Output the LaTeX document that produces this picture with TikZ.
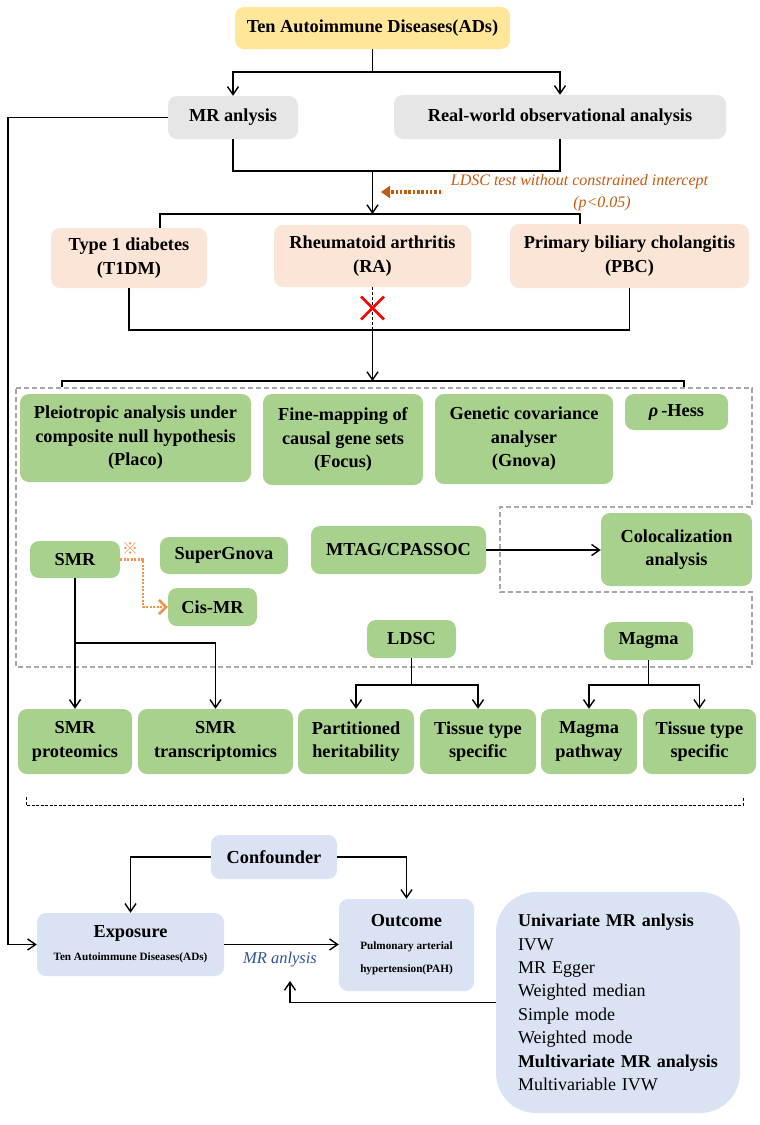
\documentclass[tikz,border=0pt]{standalone}
\usepackage{fontspec}
\setmainfont{Liberation Serif}
\newfontfamily\cjkfont{Noto Sans CJK SC}
\usetikzlibrary{arrows.meta,shapes.misc}

\definecolor{topyellow}{HTML}{FFE699}
\definecolor{mrgray}{HTML}{E7E6E6}
\definecolor{peach}{HTML}{FBE5D6}
\definecolor{leafgreen}{HTML}{A9D18E}
\definecolor{paleblue}{HTML}{DAE3F3}
\definecolor{frameg}{HTML}{A6A6A6}
\definecolor{ldscorange}{HTML}{C55A11}
\definecolor{smrorange}{HTML}{F4914A}
\definecolor{mrblue}{HTML}{2F5597}

\tikzset{
  box/.style={rounded corners=9pt, align=center, inner sep=0pt,
    font=\bfseries\fontsize{18.3}{23.5}\selectfont},
  greenbox/.style={box, fill=leafgreen},
  link/.style={line width=1.4pt},
  arr/.style={line width=1.4pt, -{Straight Barb[length=8pt,width=11pt]}},
}

\begin{document}
\begin{tikzpicture}[x=1pt, y=-1pt]
  \useasboundingbox (0,0) rectangle (760,1125);

  % upper flow
  \node[box, fill=topyellow, minimum width=275, minimum height=42] (ads) at (372.5,28) {Ten Autoimmune Diseases(ADs)};
  \node[box, fill=mrgray, minimum width=130, minimum height=43] (mr) at (233,117.5) {MR anlysis};
  \node[box, fill=mrgray, minimum width=332, minimum height=44] (rw) at (560,117) {Real-world observational analysis};
  \node[box, fill=peach, minimum width=156, minimum height=60] (t1dm) at (129,258) {Type 1 diabetes\\(T1DM)};
  \node[box, fill=peach, minimum width=197, minimum height=62] (ra) at (372.5,256) {Rheumatoid arthritis\\(RA)};
  \node[box, fill=peach, minimum width=239, minimum height=64] (pbc) at (629.5,256) {Primary biliary cholangitis\\(PBC)};

  \coordinate (adsj) at (372.5,72);
  \draw[link] (ads) -- (adsj);
  \draw[arr] (adsj) -| (mr);
  \draw[arr] (adsj) -| (rw);
  \coordinate (mrj) at (372.5,171);
  \draw[link] (mr) |- (mrj);
  \draw[link] (rw) |- (mrj);
  \coordinate (adbus) at (372.5,214);
  \draw[arr] (mrj) -- (adbus);
  \coordinate (adbusl) at (160,214);
  \coordinate (adbusr) at (580,214);
  \draw[link] (t1dm.north -| adbusl) |- (adbusr) -- (pbc.north -| adbusr);

  \node[font=\itshape\fontsize{16}{19}\selectfont, text=ldscorange] (ldsctxt) at (579.5,182) {LDSC test without constrained intercept};
  \node[font=\itshape\fontsize{16}{19}\selectfont, text=ldscorange] (pval) at (602,204) {(p<0.05)};
  \coordinate (ldsctail) at (441,192);
  \coordinate (ldschead) at (381,192);
  \draw[ldscorange, line width=3.2pt, dash pattern=on 2.5pt off 1.8pt, -{Triangle[length=9pt,width=12pt]}] (ldsctail) -- (ldschead);

  \coordinate (raj) at (372.5,330);
  \draw[link] (t1dm) |- (raj) -| (pbc);
  \draw[line width=1pt, dash pattern=on 3pt off 2pt] (ra) -- (raj);
  \node[cross out, draw=red, line width=2.8pt, minimum width=20pt, minimum height=20pt, inner sep=0pt] (nora) at (372.5,308) {};
  \coordinate (toolj) at (372.5,381);
  \draw[arr] (raj) -- (toolj);
  \coordinate (toolbusl) at (62,381);
  \coordinate (toolbusr) at (684,381);
  \draw[link] (toolbusl) ++(0,6) -- (toolbusl) -- (toolbusr) -- ++(0,6);

  % tool region
  \draw[frameg, line width=1.6pt, dash pattern=on 5pt off 3pt] (16,388) -- (752,388) -- (752,507) -- (500,507)
    -- (500,592) -- (752,592) -- (752,667) -- (16,667) -- cycle;

  \node[greenbox, minimum width=231, minimum height=88] (placo) at (135.5,438) {Pleiotropic analysis under\\composite null hypothesis\\(Placo)};
  \node[greenbox, minimum width=160, minimum height=91] (focus) at (343,439.5) {Fine-mapping of\\causal gene sets\\(Focus)};
  \node[greenbox, minimum width=178, minimum height=90] (gnova) at (524,439) {Genetic covariance\\analyser\\(Gnova)};
  \node[greenbox, minimum width=103, minimum height=36] (rhess) at (676.5,412) {{\itshape ρ}\,-Hess};
  \node[greenbox, minimum width=90, minimum height=37] (smr) at (75,559.5) {SMR};
  \node[greenbox, minimum width=128, minimum height=37] (sgnova) at (224,555.5) {SuperGnova};
  \node[greenbox, minimum width=89, minimum height=38] (cismr) at (212.5,607) {Cis-MR};
  \node[greenbox, minimum width=175, minimum height=48] (mtag) at (398.5,550) {MTAG/CPASSOC};
  \node[greenbox, minimum width=151, minimum height=73] (coloc) at (676.5,549.5) {Colocalization\\analysis};
  \node[greenbox, minimum width=89, minimum height=38] (ldsc) at (411.5,639) {LDSC};
  \node[greenbox, minimum width=89, minimum height=38] (magma) at (648.5,641) {Magma};

  \draw[arr] (mtag.east) -- (mtag.east -| coloc.west);
  \node[text=smrorange, font=\cjkfont\bfseries\fontsize{16}{16}\selectfont] (refmark) at (130,549) {※};
  \coordinate (smrbend) at (143,559.5);
  \draw[smrorange, line width=2.6pt, dash pattern=on 2pt off 1.5pt, -{Straight Barb[length=7pt,width=14pt]}] (smr.east) -- (smrbend) |- (cismr.west);

  % result row
  \foreach \nm/\cx/\bw/\txt in {smrp/75/114/{SMR\\proteomics}, smrt/215.5/155/{SMR\\transcriptomics},
                                parth/356/116/{Partitioned\\heritability}, tts1/478/116/{Tissue type\\specific},
                                mpath/589/96/{Magma\\pathway}, tts2/699.5/113/{Tissue type\\specific}} {
    \node[greenbox, minimum width=\bw, minimum height=65] (\nm) at (\cx,741.5) {\txt};
  }
  \coordinate (smrj) at (75,643);
  \draw[arr] (smr) -- (smrp);
  \draw[arr] (smrj) -| (smrt);
  \coordinate (ldscj) at (411.5,685);
  \draw[link] (ldsc) -- (ldscj);
  \draw[arr] (ldscj) -| (parth);
  \draw[arr] (ldscj) -| (tts1);
  \coordinate (magj) at (648.5,685);
  \draw[link] (magma) -- (magj);
  \draw[arr] (magj) -| (mpath);
  \draw[arr] (magj) -| (tts2);

  \draw[line width=0.8pt, dash pattern=on 3pt off 1.5pt] (26,797) -- (26,805) -- (743,805) -- (743,797);

  % MR design
  \node[box, fill=paleblue, minimum width=126, minimum height=44] (conf) at (274,857) {Confounder};
  \node[box, fill=paleblue, minimum width=187, minimum height=63, font=\bfseries\fontsize{11.2}{23}\selectfont] (expo) at (130.5,944.5)
    {{\fontsize{18.3}{23}\selectfont Exposure}\\Ten Autoimmune Diseases(ADs)};
  \node[box, fill=paleblue, minimum width=135, minimum height=92, font=\bfseries\fontsize{11.2}{23}\selectfont] (outc) at (406.5,945)
    {{\fontsize{18.3}{23}\selectfont Outcome}\\Pulmonary arterial\\hypertension(PAH)};
  \node[box, fill=paleblue, rounded corners=40pt, minimum width=244, minimum height=221, text width=200, inner xsep=22,
        align=left, font=\fontsize{18}{23.4}\selectfont] (meth) at (618,1002.5)
    {\textbf{Univariate MR anlysis}\\IVW\\MR Egger\\Weighted median\\Simple mode\\Weighted mode\\\textbf{Multivariate MR analysis}\\Multivariable IVW};
  \node[text=mrblue, font=\itshape\fontsize{16.5}{19}\selectfont] (mrlab) at (280,960) {MR anlysis};

  \draw[arr] (conf.west) -| (expo);
  \draw[arr] (conf.east) -| (outc);
  \draw[arr] (expo.east) -- (expo.east -| outc.west);
  \coordinate (methup) at (290,981);
  \draw[arr] (meth.west) -| (methup);
  \coordinate (rail) at (8,117.5);
  \draw[arr] (mr.west) -- (rail) |- (expo.west);
\end{tikzpicture}
\end{document}
